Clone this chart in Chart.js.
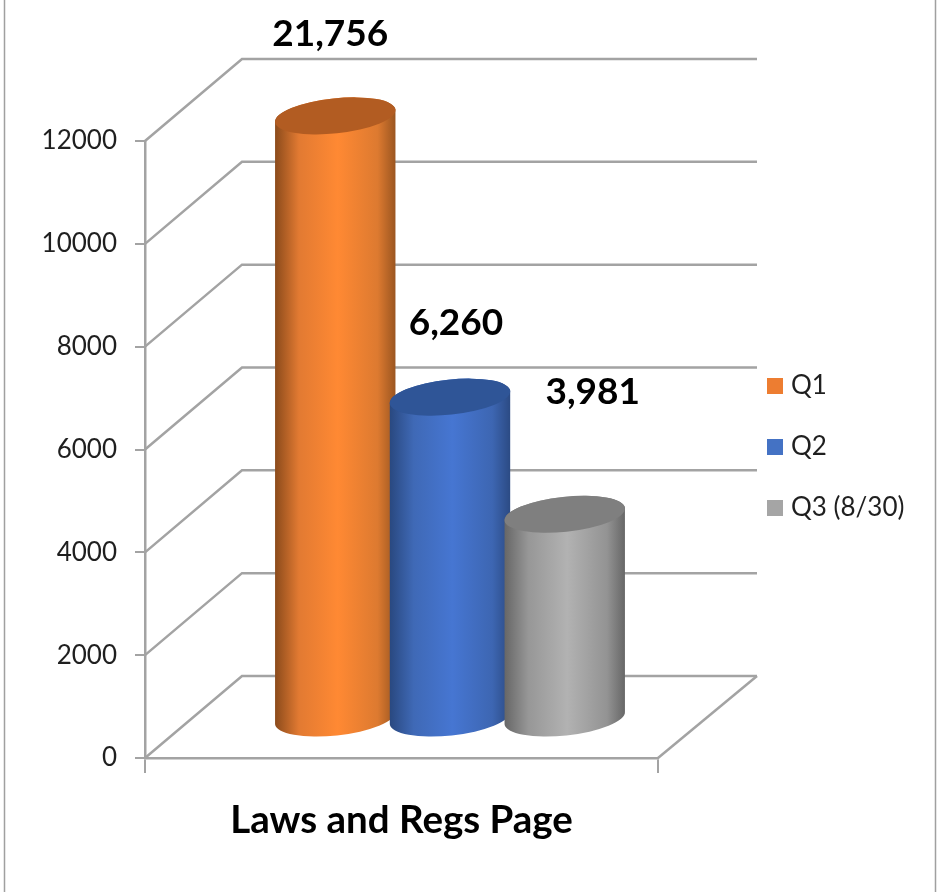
<!DOCTYPE html>
<html>
<head>
<meta charset="utf-8">
<title>Laws and Regs Page</title>
<script src="https://cdn.jsdelivr.net/npm/chart.js@4"></script>
<style>
    html, body { margin: 0; padding: 0; background: #fff; overflow: hidden; }
    canvas { display: block; }
</style>
</head>
<body>
<canvas id="chart" width="937" height="892"></canvas>
<script>
    var categories = ['Laws and Regs Page'];
    var seriesNames = ['Q1', 'Q2', 'Q3 (8/30)'];
    // Q1 runs off the axis in the original, its drawn height is what is read here
    var q1Values = [11730];
    var q2Values = [6260];
    var q3Values = [3981];
    var valueLabels = ['21,756', '6,260', '3,981'];
    var axisMax = 12000;
    var axisStep = 2000;

    var FONT = 'Lato, Carlito, sans-serif';
    var GRID = '#a3a3a3';
    var DEPTH_X = 97;
    var DEPTH_Y = 82;

    var legendColors = ['#ed7d31', '#4472c4', '#a5a5a5'];
    var capColors = ['#b25c22', '#2f5597', '#7f7f7f'];
    var bodyStops = [
        ['#8a4a1b', '#e27a32', '#ff8933', '#dd7a30', '#9a5520'],
        ['#29487f', '#3f69b6', '#4676d2', '#3d66b2', '#2b4a83'],
        ['#666666', '#979797', '#b2b2b2', '#939393', '#666666']
    ];
    // where each value label sits relative to the top of its cylinder
    var labelShift = [[-5, -82], [6, -74], [28, -122]];
    var legendRows = [386, 447, 508];

    function gridPath(ctx, x0, x1, y) {
        ctx.beginPath();
        ctx.moveTo(x0, y);
        ctx.lineTo(x0 + DEPTH_X, y - DEPTH_Y);
        ctx.lineTo(x1, y - DEPTH_Y);
        ctx.stroke();
    }

    function drawCylinder(ctx, el, i) {
        var a = el.width / 2;
        var b = 17.5;
        var rot = -6 * Math.PI / 180;
        var cx = el.x + DEPTH_X / 2;
        var top = el.y - 39;
        var base = el.base - 39;

        var grad = ctx.createLinearGradient(cx - a, 0, cx + a, 0);
        var stops = bodyStops[i];
        grad.addColorStop(0, stops[0]);
        grad.addColorStop(0.2, stops[1]);
        grad.addColorStop(0.52, stops[2]);
        grad.addColorStop(0.85, stops[3]);
        grad.addColorStop(1, stops[4]);

        ctx.beginPath();
        ctx.ellipse(cx, base, a, b, rot, Math.PI, 0, true);
        ctx.ellipse(cx, top, a, b, rot, 0, Math.PI, true);
        ctx.closePath();
        ctx.fillStyle = grad;
        ctx.fill();

        ctx.beginPath();
        ctx.ellipse(cx, top, a, b, rot, 0, Math.PI * 2);
        ctx.fillStyle = capColors[i];
        ctx.fill();

        ctx.fillStyle = '#000';
        ctx.font = 'bold 37px ' + FONT;
        ctx.textAlign = 'center';
        ctx.textBaseline = 'middle';
        ctx.fillText(valueLabels[i], cx + labelShift[i][0], top + labelShift[i][1]);
    }

    var cylinderPlugin = {
        id: 'cylinders',
        beforeDraw: function (chart) {
            // picture frame
            var ctx = chart.ctx;
            ctx.save();
            ctx.strokeStyle = '#a0a0a0';
            ctx.lineWidth = 1.5;
            ctx.beginPath();
            ctx.moveTo(4.5, 0);
            ctx.lineTo(4.5, 892);
            ctx.moveTo(935.5, 0);
            ctx.lineTo(935.5, 892);
            ctx.stroke();
            ctx.restore();
        },
        beforeDatasetsDraw: function (chart) {
            var ctx = chart.ctx;
            var area = chart.chartArea;
            var y = chart.scales.y;
            ctx.save();
            ctx.strokeStyle = GRID;
            ctx.lineWidth = 2.5;
            ctx.lineJoin = 'miter';
            y.ticks.forEach(function (t) {
                gridPath(ctx, area.left, area.right + DEPTH_X + 2, y.getPixelForValue(t.value));
            });
            // right edge of the floor
            ctx.beginPath();
            ctx.moveTo(area.right, area.bottom);
            ctx.lineTo(area.right + DEPTH_X + 2, area.bottom - DEPTH_Y);
            ctx.stroke();
            ctx.restore();
        },
        beforeDatasetDraw: function () {
            return false;
        },
        afterDatasetsDraw: function (chart) {
            var ctx = chart.ctx;
            ctx.save();
            chart.data.datasets.forEach(function (ds, i) {
                drawCylinder(ctx, chart.getDatasetMeta(i).data[0], i);
            });

            // legend
            ctx.font = '26px ' + FONT;
            ctx.textAlign = 'left';
            ctx.textBaseline = 'middle';
            chart.data.datasets.forEach(function (ds, i) {
                ctx.fillStyle = ds.backgroundColor;
                ctx.fillRect(767, legendRows[i] - 8, 16, 16);
                ctx.fillStyle = '#1f1f1f';
                ctx.fillText(ds.label, 791, legendRows[i]);
            });
            ctx.restore();
        }
    };

    new Chart(document.getElementById('chart').getContext('2d'), {
        type: 'bar',
        data: {
            labels: categories,
            datasets: [
                { label: seriesNames[0], data: q1Values, backgroundColor: legendColors[0] },
                { label: seriesNames[1], data: q2Values, backgroundColor: legendColors[1] },
                { label: seriesNames[2], data: q3Values, backgroundColor: legendColors[2] }
            ]
        },
        options: {
            responsive: false,
            animation: false,
            layout: {
                autoPadding: false,
                padding: { top: 141, right: 279, bottom: 0, left: 0 }
            },
            datasets: {
                bar: {
                    categoryPercentage: 0.671,
                    barPercentage: 1.055
                }
            },
            plugins: {
                legend: { display: false },
                tooltip: { enabled: false }
            },
            scales: {
                x: {
                    afterFit: function (scale) { scale.height = 134; },
                    border: { color: GRID, width: 2.5 },
                    grid: { color: GRID, lineWidth: 2, drawOnChartArea: false, tickLength: 15 },
                    ticks: {
                        color: '#000',
                        maxRotation: 0,
                        padding: 24,
                        font: { family: FONT, size: 38.5, weight: 'bold' }
                    }
                },
                y: {
                    min: 0,
                    max: axisMax,
                    afterFit: function (scale) { scale.width = 145; },
                    border: { color: GRID, width: 2.5 },
                    grid: { color: GRID, lineWidth: 2, drawOnChartArea: false, tickLength: 10 },
                    ticks: {
                        stepSize: axisStep,
                        color: '#1f1f1f',
                        padding: 18,
                        font: { family: FONT, size: 26 },
                        callback: function (value) { return String(value); }
                    }
                }
            }
        },
        plugins: [cylinderPlugin]
    });
</script>
</body>
</html>
